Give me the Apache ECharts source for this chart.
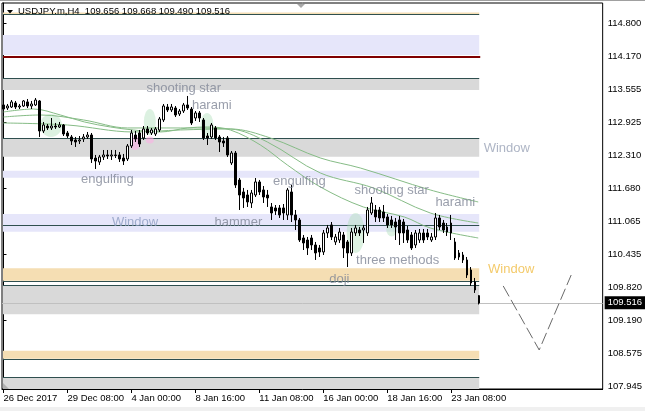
<!DOCTYPE html>
<html><head><meta charset="utf-8">
<script src="https://cdn.jsdelivr.net/npm/echarts@6/dist/echarts.min.js"></script>
<style>html,body{margin:0;padding:0;background:#fff;overflow:hidden}#c{width:645px;height:411px}</style>
</head><body><div id="c"></div>
<script>
// ---------- DATA ----------
const xTickIdx = [0, 16, 32, 48, 64, 80, 96, 112];
const xTickLabels = ['26 Dec 2017', '29 Dec 08:00', '4 Jan 00:00', '8 Jan 16:00', '11 Jan 08:00', '16 Jan 00:00', '18 Jan 16:00', '23 Jan 08:00'];
const yTicks = [114.800, 114.170, 113.555, 112.925, 112.310, 111.680, 111.065, 110.435, 109.820, 109.190, 108.575, 107.945];
const lastPrice = 109.516;

const opens = [113.257,113.200,113.219,113.295,113.219,113.238,113.314,113.238,113.257,113.333,
112.766,112.860,112.823,112.860,112.841,112.879,112.728,112.653,112.596,112.577,
112.615,112.653,112.690,112.256,112.180,112.275,112.313,112.294,112.313,112.313,
112.256,112.237,112.483,112.690,112.728,112.634,112.804,112.728,112.709,112.785,
112.974,113.219,113.163,113.200,113.087,113.143,113.257,113.181,113.011,113.106,
112.974,112.671,112.653,112.823,112.653,112.577,112.634,112.162,112.350,111.840,
111.614,111.557,111.406,111.557,111.803,111.652,111.557,111.331,111.312,111.312,
111.312,111.180,111.614,111.180,111.085,110.745,110.707,110.745,110.613,110.556,
110.481,110.840,110.991,110.670,110.707,110.802,110.670,110.462,110.840,110.896,
110.896,110.840,111.217,111.274,111.274,111.236,111.142,111.085,111.047,111.085,
111.047,110.896,110.802,110.613,110.707,110.840,110.840,110.707,110.764,111.123,
111.028,110.953,111.028,110.670,110.462,110.424,110.330,110.141,109.914,109.656];
const closes = [113.181,113.238,113.314,113.219,113.238,113.333,113.238,113.276,113.351,112.766,
112.879,112.823,112.860,112.841,112.879,112.709,112.671,112.577,112.558,112.596,
112.653,112.690,112.237,112.199,112.275,112.313,112.294,112.313,112.303,112.237,
112.199,112.483,112.728,112.615,112.520,112.804,112.728,112.785,112.804,112.993,
113.238,113.163,113.219,113.068,113.143,113.257,113.200,112.917,113.106,113.011,
112.634,112.634,112.879,112.634,112.558,112.539,112.313,112.350,111.746,111.557,
111.501,111.425,111.595,111.803,111.614,111.519,111.501,111.217,111.255,111.180,
111.217,111.652,111.180,111.085,110.707,110.651,110.556,110.613,110.462,110.481,
110.840,110.934,110.764,110.764,110.858,110.556,110.462,110.858,110.934,110.840,
110.934,111.274,111.406,111.142,111.123,111.123,110.991,110.991,110.953,110.840,
110.840,110.707,110.556,110.840,110.840,110.707,110.764,110.764,111.123,110.953,
110.896,110.858,110.840,110.367,110.386,110.330,110.046,109.895,109.763,109.516];
const lows = [113.143,113.163,113.200,113.181,113.181,113.219,113.200,113.181,113.238,112.653,
112.728,112.785,112.785,112.804,112.823,112.671,112.634,112.501,112.464,112.520,
112.558,112.615,112.162,112.048,112.124,112.218,112.237,112.218,112.256,112.180,
112.124,112.199,112.445,112.558,112.464,112.596,112.690,112.690,112.671,112.747,
112.936,113.125,113.125,113.030,113.049,113.106,113.163,112.879,112.955,112.936,
112.596,112.501,112.615,112.596,112.369,112.464,112.275,112.124,111.690,111.274,
111.312,111.331,111.312,111.519,111.557,111.406,111.331,111.085,111.180,111.123,
111.085,111.085,111.047,110.896,110.670,110.518,110.424,110.518,110.330,110.386,
110.424,110.745,110.707,110.613,110.651,110.367,110.197,110.405,110.783,110.783,
110.651,110.783,111.180,111.047,111.047,111.047,110.934,110.934,110.707,110.613,
110.651,110.651,110.518,110.556,110.651,110.651,110.707,110.670,110.707,110.896,
110.840,110.783,110.707,110.330,110.330,110.273,109.990,109.839,109.707,109.490];
const highs = [113.295,113.276,113.351,113.333,113.276,113.351,113.370,113.333,113.389,113.351,
112.936,112.898,113.011,112.917,112.936,112.898,112.766,112.690,112.653,112.671,
112.709,112.747,112.728,112.313,112.313,112.407,112.407,112.407,112.407,112.369,
112.332,112.520,112.785,112.766,112.785,112.860,112.860,112.823,112.841,113.030,
113.276,113.276,113.276,113.238,113.181,113.295,113.427,113.219,113.143,113.143,
113.011,112.728,112.917,112.860,112.690,112.653,112.671,112.388,112.388,111.878,
111.690,111.652,111.652,111.878,111.841,111.727,111.652,111.406,111.368,111.368,
111.387,111.690,111.746,111.274,111.123,110.802,110.764,110.802,110.670,110.613,
110.896,110.991,111.047,110.821,110.934,110.858,110.707,110.934,110.991,110.953,
110.991,111.331,111.519,111.368,111.331,111.368,111.198,111.161,111.123,111.161,
111.104,110.972,110.858,110.896,110.915,110.915,110.915,110.840,111.217,111.180,
111.085,111.028,111.180,110.745,110.518,110.481,110.386,110.197,109.990,109.668];

// moving averages: [bar index, price]
const maSlow = [[0,112.917],[16,112.879],[32.5,112.747],[44.25,112.785],[56.75,112.804],[66.75,112.634],[79.25,112.256],[89.25,112.067],[106.75,111.652],[118.75,111.425]];
const maMid  = [[0,113.030],[9.25,113.068],[20,112.974],[31,112.823],[44.25,112.823],[56.75,112.804],[66,112.558],[79.25,111.973],[92.5,111.690],[106.75,111.217],[118.75,111.028]];
const maFast = [[0,113.125],[7.5,113.181],[14.25,113.068],[20.25,112.936],[26.75,112.841],[32.5,112.785],[39.25,112.747],[46,112.823],[51,112.841],[56.75,112.785],[64.25,112.502],[71,112.124],[79.25,111.709],[90,111.331],[100.25,111.142],[106.75,110.934],[118.75,110.745]];

// horizontal zones (price low / high) and kinds
const bandLo   = [114.975, 114.201, 113.540, 112.281, 111.884, 110.864, 109.939, 109.304, 108.466, 107.893];
const bandHi   = [115.002, 114.579, 113.761, 112.628, 112.016, 111.198, 110.173, 109.858, 108.617, 108.114];
const bandKind = ['wheat', 'lavender', 'gray', 'gray', 'lavender', 'lavender', 'wheat', 'gray', 'wheat', 'gray'];
const levelLines = [114.962, 113.761, 112.628, 110.977, 109.927, 109.858, 108.454, 108.114];
const resistanceLine = 114.160;

// candlestick pattern highlights: bar index, price, kind
const hlBar   = [11.9, 36.6, 32.9, 36.6, 50.9, 88.1, 97.1];
const hlPrice = [112.870, 112.936, 112.540, 112.596, 112.879, 110.840, 110.915];
const hlKind  = ['bull', 'bull', 'bear', 'bear', 'bull', 'bull', 'bull'];

// pattern labels
const patText  = ['shooting star', 'harami', 'engulfing', 'Window', 'hammer', 'engulfing', 'shooting star', 'harami', 'three methods', 'doji', 'Window', 'Window'];
const patBar   = [45.1, 52.1, 26.0, 32.9, 58.75, 74.0, 97.1, 113.0, 98.6, 84.0, 125.9, 127.0];
const patPrice = [113.578, 113.257, 111.860, 111.030, 111.030, 111.822, 111.652, 111.410, 110.315, 109.955, 112.445, 110.160];
const patKind  = ['pattern', 'pattern', 'pattern', 'window', 'pattern', 'pattern', 'pattern', 'pattern', 'pattern', 'pattern', 'windowGray', 'windowOrange'];

// projected path (dashed)
const projBar   = [125, 134, 142];
const projPrice = [109.839, 108.630, 110.046];

// ---------- STYLE ----------
const FONT = '"Liberation Sans", Arial, sans-serif';
const BAND_COLORS = { lavender: '#e6e6fa', gray: '#d9d9d9', wheat: '#f5deb3' };
const HL_COLORS = { bull: 'rgba(175,222,186,0.55)', bear: 'rgba(255,175,230,0.7)' };
const HL_SIZES = [[22, 23], [12, 26], [10, 14], [8, 7], [13, 24], [18, 40], [11, 15]];
const PAT_COLORS = { pattern: '#7f8696', window: '#8c9cc0', windowGray: '#9aa3b6', windowOrange: '#f0bd45' };
const X_MIN = -0.375, X_MAX = 149.875, BAND_START = -0.125, BAND_END = 119;

const candleData = opens.map((o, i) => [i, o, closes[i], lows[i], highs[i]]);
const bandAreas = bandLo.map((lo, i) => [
  { xAxis: BAND_START, yAxis: lo, itemStyle: { color: BAND_COLORS[bandKind[i]] } },
  { xAxis: BAND_END, yAxis: bandHi[i] }
]);
const lineItems = levelLines.map(p => [
  { coord: [BAND_START, p], lineStyle: { color: '#2f4f4f', width: 1, type: 'solid' } },
  { coord: [BAND_END, p] }
]);
lineItems.push([
  { coord: [BAND_START, resistanceLine], lineStyle: { color: '#800000', width: 2, type: 'solid' } },
  { coord: [BAND_END + 0.25, resistanceLine] }
]);

const chart = echarts.init(document.getElementById('c'), null, { renderer: 'canvas' });
const maStyle = (w) => ({
  type: 'line', smooth: 0.35, showSymbol: false, symbol: 'none', z: 2.5, silent: true,
  lineStyle: { color: '#86bc86', width: w }
});

chart.setOption({
  animation: false,
  backgroundColor: '#ffffff',
  title: {
    text: 'USDJPY.m,H4  109.656 109.668 109.490 109.516',
    left: 18, top: 6, padding: 0,
    textStyle: { fontSize: 9.5, fontWeight: 'normal', color: '#000', fontFamily: FONT }
  },
  graphic: [
    { type: 'polygon', shape: { points: [[7, 10], [13, 10], [10, 13.5]] }, style: { fill: '#000' }, z: 100 },
    { type: 'polygon', shape: { points: [[297, 4], [305, 4], [301, 8]] }, style: { fill: '#a8a8a8' }, z: 100 },
    { type: 'polygon', shape: { points: [[3, 383], [3, 389], [9, 389]] }, style: { fill: '#b0b0b0' }, z: 100 },
    { type: 'rect', shape: { x: 0, y: 0, width: 645, height: 1 }, style: { fill: '#a0a0a0' }, z: 100 },
    { type: 'rect', shape: { x: 0, y: 407, width: 645, height: 4 }, style: { fill: '#f0f0f0' }, z: 100 }
  ],
  grid: { left: 2, right: 42, top: 3, bottom: 22, show: true, borderColor: '#000', borderWidth: 1, backgroundColor: 'transparent' },
  xAxis: {
    type: 'value', min: X_MIN, max: X_MAX,
    axisLine: { show: true, onZero: false, lineStyle: { color: '#000' } },
    axisTick: { show: true, length: 4, customValues: xTickIdx, lineStyle: { color: '#000' } },
    axisLabel: {
      customValues: xTickIdx, align: 'left', margin: 4,
      formatter: v => xTickLabels[xTickIdx.indexOf(v)] || '',
      color: '#000', fontSize: 9.5, fontFamily: FONT
    },
    splitLine: { show: false }
  },
  yAxis: {
    type: 'value', position: 'right', min: 107.893, max: 115.183, scale: true,
    axisLine: { show: true, lineStyle: { color: '#000' } },
    axisTick: { show: true, length: 3, customValues: yTicks, lineStyle: { color: '#000' } },
    axisLabel: {
      customValues: yTicks, margin: 5,
      formatter: v => v.toFixed(3),
      color: '#000', fontSize: 9.5, fontFamily: FONT
    },
    splitLine: { show: false }
  },
  series: [
    Object.assign(maStyle(1), {
      name: 'MA slow', data: maSlow,
      markArea: { silent: true, z: 1, data: bandAreas, label: { show: false } },
      markLine: { silent: true, z: 1.5, symbol: ['none', 'none'], label: { show: false }, data: lineItems }
    }),
    Object.assign(maStyle(1), { name: 'MA mid', data: maMid }),
    Object.assign(maStyle(1), { name: 'MA fast', data: maFast }),
    {
      type: 'scatter', name: 'highlights', z: 1.8, silent: true,
      data: hlBar.map((b, i) => ({
        value: [b, hlPrice[i]], symbolSize: HL_SIZES[i],
        itemStyle: { color: HL_COLORS[hlKind[i]] }
      })),
      symbol: 'circle'
    },
    {
      type: 'candlestick', name: 'USDJPY', z: 3, silent: true,
      data: candleData,
      encode: { x: 0, y: [1, 2, 3, 4] },
      barWidth: 2,
      itemStyle: { color: '#ffffff', color0: '#000000', borderColor: '#000000', borderColor0: '#000000', borderColorDoji: '#000000', borderWidth: 1 },
      markLine: {
        silent: true, z: 2.2, symbol: ['none', 'none'],
        data: [{
          yAxis: lastPrice,
          lineStyle: { color: '#c0c0c0', width: 1, type: 'solid' },
          label: {
            show: true, position: 'end', distance: 2, formatter: lastPrice.toFixed(3),
            backgroundColor: '#000', color: '#fff', padding: [2, 3, 1, 3],
            fontSize: 9.5, fontFamily: FONT
          }
        }]
      }
    },
    {
      type: 'line', name: 'projection', z: 3, silent: true, symbol: 'none',
      data: projBar.map((b, i) => [b, projPrice[i]]),
      lineStyle: { color: '#6a6a6a', width: 1, type: [12, 4] }
    },
    {
      type: 'scatter', name: 'patterns', z: 6, silent: true, symbolSize: 0,
      data: patText.map((t, i) => ({
        value: [patBar[i], patPrice[i]], name: t,
        label: { color: PAT_COLORS[patKind[i]] }
      })),
      label: {
        show: true, position: 'inside', formatter: p => p.name,
        fontSize: 13, fontFamily: FONT
      }
    }
  ]
});
</script>
</body></html>
